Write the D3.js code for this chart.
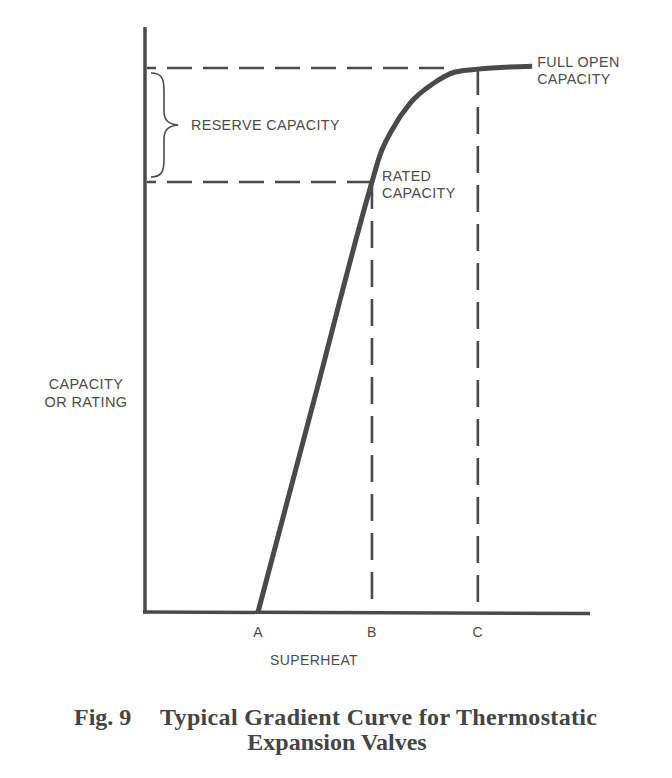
<!DOCTYPE html>
<html>
<head>
<meta charset="utf-8">
<script src="https://cdn.jsdelivr.net/npm/d3@7"></script>
<style>
  html, body { margin: 0; padding: 0; background: #ffffff; }
  svg { display: block; }
</style>
</head>
<body>
<svg id="chart" width="672" height="778"></svg>
<script>
// ---- data (abstract units, 0-100 on both axes) ----
const superheatLabels = ["A", "B", "C"];
const superheatValues = [25.4, 51.0, 74.8];
const ratedCapacity = 73.5;
const fullOpenCapacity = 93.0;
const curveSuperheat = [25.4, 38.2, 51.0, 52.8, 55.5, 59.6, 64.7, 69.7, 74.8, 87.0];
const curveCapacity  = [0.0, 36.8, 73.5, 78.1, 82.4, 87.0, 90.3, 92.3, 92.8, 93.3];
const yAxisLabel = ["CAPACITY", "OR RATING"];
const xAxisLabel = "SUPERHEAT";
const captionLine1 = ["Fig. 9", "Typical Gradient Curve for Thermostatic"];
const captionLine2 = "Expansion Valves";

(function () {
const ink = "#4a4a4a";
const svg = d3.select("#chart");

const x = d3.scaleLinear().domain([0, 100]).range([145, 590]);
const y = d3.scaleLinear().domain([0, 100]).range([612, 27]);

const sans = "'Liberation Sans', Arial, Helvetica, sans-serif";
const serif = "'Liberation Serif', 'Times New Roman', serif";

// axes
svg.append("line").attr("x1", x(0)).attr("x2", x(0))
  .attr("y1", y(100)).attr("y2", y(0) + 1.5)
  .attr("stroke", ink).attr("stroke-width", 3.5);
svg.append("line").attr("x1", x(0) - 2).attr("x2", x(100))
  .attr("y1", y(0)).attr("y2", y(0) + 1.5)
  .attr("stroke", ink).attr("stroke-width", 3.5);

// dashed reference lines
const dashH = "25 11";
const dashV = "27 12";
svg.append("line")
  .attr("x1", x(0) + 2).attr("x2", x(69.7))
  .attr("y1", y(fullOpenCapacity)).attr("y2", y(fullOpenCapacity))
  .attr("stroke", ink).attr("stroke-width", 2.6)
  .attr("stroke-dasharray", dashH).attr("stroke-dashoffset", 16);
svg.append("line")
  .attr("x1", x(0) + 2).attr("x2", x(superheatValues[1]))
  .attr("y1", y(ratedCapacity)).attr("y2", y(ratedCapacity))
  .attr("stroke", ink).attr("stroke-width", 2.6)
  .attr("stroke-dasharray", dashH).attr("stroke-dashoffset", 16);
svg.append("line")
  .attr("x1", x(superheatValues[1])).attr("x2", x(superheatValues[1]))
  .attr("y1", y(ratedCapacity)).attr("y2", y(0))
  .attr("stroke", ink).attr("stroke-width", 2.6)
  .attr("stroke-dasharray", dashV);
svg.append("line")
  .attr("x1", x(superheatValues[2])).attr("x2", x(superheatValues[2]))
  .attr("y1", y(fullOpenCapacity)).attr("y2", y(0))
  .attr("stroke", ink).attr("stroke-width", 2.6)
  .attr("stroke-dasharray", dashV);

// gradient curve
const pts = curveSuperheat.map((d, i) => [d, curveCapacity[i]]);
svg.append("path").datum(pts)
  .attr("d", d3.line().x(d => x(d[0])).y(d => y(d[1])).curve(d3.curveMonotoneX))
  .attr("fill", "none").attr("stroke", ink).attr("stroke-width", 5)
  .attr("stroke-linecap", "butt");

// brace for reserve capacity
const bx = x(0) + 6, bTop = y(fullOpenCapacity) + 5, bBot = y(ratedCapacity) - 5;
const mid = (bTop + bBot) / 2;
svg.append("path")
  .attr("d", `M${bx},${bTop} C${bx + 11},${bTop} ${bx + 13},${bTop + 6} ${bx + 13},${bTop + 18}
              L${bx + 13},${mid - 14} C${bx + 13},${mid - 5} ${bx + 17},${mid - 1} ${bx + 27},${mid}
              C${bx + 17},${mid + 1} ${bx + 13},${mid + 5} ${bx + 13},${mid + 14}
              L${bx + 13},${bBot - 18} C${bx + 13},${bBot - 6} ${bx + 11},${bBot} ${bx},${bBot}`)
  .attr("fill", "none").attr("stroke", ink).attr("stroke-width", 1.6);

const label = (tx, ty, t, anchor, size) => svg.append("text")
  .attr("x", tx).attr("y", ty).attr("text-anchor", anchor || "start")
  .attr("font-family", sans).attr("font-size", size || 14.3)
  .attr("letter-spacing", 0.4).attr("fill", "#4c4c4c").text(t);

label(191, mid + 5, "RESERVE CAPACITY");
label(x(superheatValues[1]) + 10, y(ratedCapacity) - 1, "RATED");
label(x(superheatValues[1]) + 10, y(ratedCapacity) + 16, "CAPACITY");
label(x(87.0) + 5, y(fullOpenCapacity) - 1, "FULL OPEN");
label(x(87.0) + 5, y(fullOpenCapacity) + 16, "CAPACITY");

// y-axis label
yAxisLabel.forEach((t, i) => label(86, 389 + i * 18, t, "middle", 14.5));

// x tick labels
superheatLabels.forEach((t, i) => label(x(superheatValues[i]), y(0) + 25, t, "middle", 14));
label(314, 665, xAxisLabel, "middle", 14);

// caption
const cap = svg.append("g").attr("font-family", serif).attr("font-weight", "bold")
  .attr("font-size", 24).attr("fill", "#444444");
cap.append("text").attr("x", 74).attr("y", 725).text(captionLine1[0]);
cap.append("text").attr("x", 160).attr("y", 725).attr("textLength", 437)
  .attr("lengthAdjust", "spacing").text(captionLine1[1]);
cap.append("text").attr("x", 337).attr("y", 750).attr("text-anchor", "middle").text(captionLine2);
})();
</script>
</body>
</html>
